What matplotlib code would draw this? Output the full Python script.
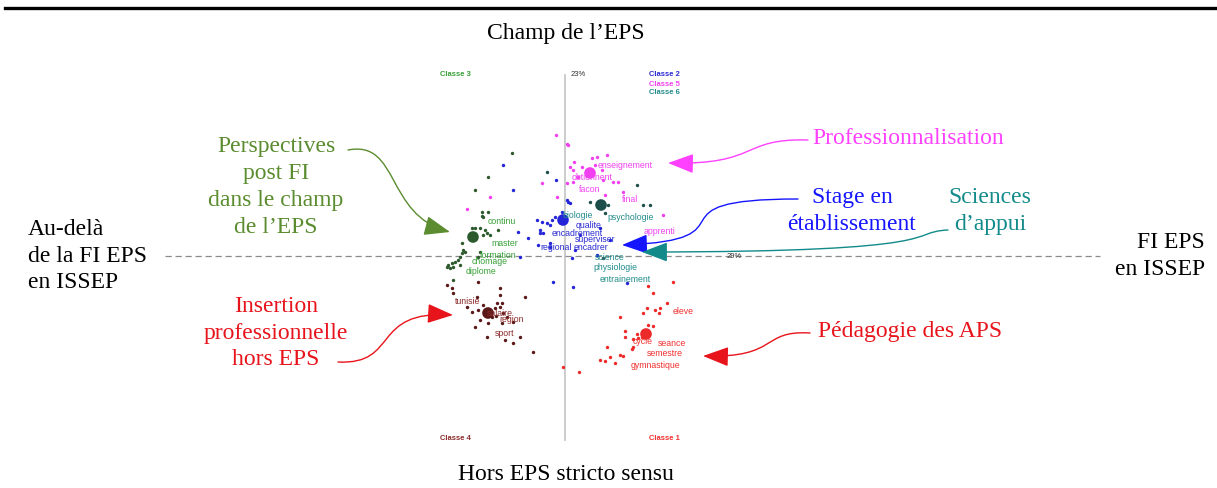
import matplotlib
matplotlib.use("Agg")
import matplotlib.pyplot as plt
from matplotlib.patches import FancyArrowPatch
from matplotlib.path import Path
from matplotlib.transforms import Affine2D
from matplotlib.lines import Line2D

# Factor coordinates (axe 1 = 29%, axe 2 = 23%)
c1_x = [0.83, 1.08, 0.88, 1.02, 0.82, 0.90, 0.95, 0.78, 0.94, 0.55, 0.83, 0.88, 0.60, 0.60, 0.72,
        0.68, 0.73, 0.77, 0.68, 0.67, 0.42, 0.55, 0.58, 0.45, 0.35, 0.40, 0.50, -0.02, 0.14]
c1_y = [-0.30, -0.26, -0.37, -0.47, -0.52, -0.54, -0.52, -0.57, -0.57, -0.61, -0.69, -0.70, -0.75, -0.81, -0.78,
        -0.83, -0.82, -0.81, -0.91, -0.93, -0.91, -0.99, -1.00, -1.01, -1.04, -1.05, -1.07, -1.11, -1.16]
c2_x = [-0.47, -0.37, -0.27, -0.15, -0.15, -0.45, -0.25, -0.22, -0.25, -0.28, -0.23, -0.18, -0.13, -0.15, -0.10,
        -0.12, -0.62, -0.52, -0.09, 0.03, -0.03, 0.02, 0.05, 0.07, 0.32, 0.08, 0.62, 0.15, 0.35, 0.10, 0.45]
c2_y = [0.24, 0.18, 0.11, 0.13, 0.09, -0.01, 0.26, 0.23, 0.23, 0.36, 0.34, 0.33, 0.36, 0.31, 0.39,
        -0.26, 0.91, 0.66, 0.76, 0.54, 0.44, 0.56, 0.53, -0.02, 0.01, -0.31, -0.27, 0.21, 0.28, 0.06, 0.16]
c3_x = [-0.83, -0.77, -0.82, -0.93, -0.90, -0.85, -0.80, -0.78, -0.75, -0.82, -0.67, -1.03, -1.02, -1.00, -1.03,
        -1.05, -1.07, -1.10, -1.13, -1.17, -1.18, -1.12, -1.05, -1.15, -0.85, -0.87, -1.12, -0.53, -0.77, -0.90, -0.83]
c3_y = [0.44, 0.44, 0.39, 0.28, 0.28, 0.28, 0.26, 0.23, 0.21, 0.21, 0.26, 0.13, 0.06, 0.04, 0.03,
        -0.01, -0.04, -0.06, -0.07, -0.09, -0.11, -0.11, -0.09, -0.12, 0.04, -0.01, -0.24, 1.03, 0.79, 0.66, 0.40]
c4_x = [-1.12, -0.88, -0.65, -0.40, -0.98, -0.93, -0.87, -0.82, -0.70, -0.68, -0.63, -0.65, -0.62, -0.58, -0.85,
        -0.77, -0.90, -0.63, -0.52, -0.78, -0.60, -0.52, -0.45, -0.32, -1.18, -1.13, -0.87, -0.65, -0.78, -0.73, -0.69]
c4_y = [-0.37, -0.41, -0.39, -0.41, -0.51, -0.56, -0.54, -0.49, -0.52, -0.47, -0.47, -0.51, -0.57, -0.61, -0.64,
        -0.67, -0.71, -0.67, -0.66, -0.81, -0.84, -0.87, -0.81, -0.96, -0.29, -0.32, -0.26, -0.32, -0.56, -0.61, -0.60]
c5_x = [-0.09, 0.03, -0.23, -0.75, -0.08, 0.02, 0.02, 0.09, 0.05, 0.08, 0.17, 0.27, 0.32, 0.42, 0.30,
        0.37, 0.13, 0.08, 0.48, 0.53, 0.38, 0.40, 0.98, 0.58, -0.98]
c5_y = [1.21, 1.11, 0.73, 0.59, 0.59, 0.73, 1.12, 0.94, 0.89, 0.86, 0.89, 0.98, 0.99, 1.01, 0.91,
        0.86, 0.79, 0.74, 0.74, 0.74, 0.76, 0.61, 0.41, 0.64, 0.47]
c6_x = [0.72, 0.78, 0.85, 0.25, 0.43, -0.18, 0.38, 0.40]
c6_y = [0.71, 0.51, 0.51, 0.54, 0.51, 0.84, -0.02, 0.43]

# class centroids
cent_x = [0.81, -0.02, -0.92, -0.77, 0.25, 0.36]
cent_y = [-0.78, 0.36, 0.19, -0.57, 0.83, 0.51]

# words shown on the plane
w1 = ["eleve", "cycle", "seance", "semestre", "gymnastique"]
w1_x = [1.18, 0.78, 1.07, 1.00, 0.90]
w1_y = [-0.55, -0.85, -0.87, -0.98, -1.10]
w2 = ["qualite", "encadrement", "superviser", "regional", "encadrer"]
w2_x = [0.24, 0.12, 0.30, -0.09, 0.26]
w2_y = [0.31, 0.23, 0.16, 0.09, 0.09]
w3 = ["continu", "master", "formation", "chomage", "diplome"]
w3_x = [-0.63, -0.60, -0.67, -0.75, -0.84]
w3_y = [0.34, 0.12, 0.01, -0.06, -0.16]
w4 = ["tunisie", "salaire", "region", "sport"]
w4_x = [-0.97, -0.65, -0.53, -0.60]
w4_y = [-0.46, -0.57, -0.64, -0.78]
w5 = ["enseignement", "obtiennent", "facon", "final", "apprenti"]
w5_x = [0.60, 0.27, 0.25, 0.65, 0.95]
w5_y = [0.91, 0.79, 0.66, 0.56, 0.24]
w6 = ["biologie", "psychologie", "science", "physiologie", "entrainement"]
w6_x = [0.13, 0.66, 0.45, 0.50, 0.60]
w6_y = [0.40, 0.39, -0.02, -0.12, -0.24]

dot_cols = ["#ec2a2a", "#2424d8", "#2d5a2d", "#5a1818", "#f040f0", "#1c4f4a"]
word_cols = ["#f03030", "#2a2ad0", "#38a038", "#8b2a2a", "#f040f0", "#228c8c"]

W, H = 1217, 488
fig = plt.figure(figsize=(W / 100, H / 100), dpi=100)
ax = fig.add_axes([0, 0, 1, 1])
ax.set_xlim(-5.65, 6.52)
ax.set_ylim(-2.32, 2.56)
ax.axis("off")

# pixel transform for annotations (origin top-left)
pix = Affine2D().scale(1 / W, -1 / H).translate(0, 1) + fig.transFigure

# axes of the factorial plane
ax.plot([0, 0], [1.81, -1.84], color="#c8c8c8", lw=1.3, zorder=1)
ax.plot([-4.0, 5.35], [0, 0], color="#8a8a8a", lw=0.9, ls=(0, (5, 3)), zorder=1)
ax.text(0.06, 1.81, "23%", fontsize=5.5, family="Liberation Sans", color="#333333", va="center")
ax.text(1.62, 0.0, "29%", fontsize=5.5, family="Liberation Sans", color="#333333", va="center")

groups = [(c1_x, c1_y), (c2_x, c2_y), (c3_x, c3_y), (c4_x, c4_y), (c5_x, c5_y), (c6_x, c6_y)]
for (gx, gy), col in zip(groups, dot_cols):
    ax.scatter(gx, gy, s=6, color=col, lw=0, zorder=2)
ax.scatter(cent_x, cent_y, s=70, color=dot_cols, lw=0, zorder=3)

words = [(w1, w1_x, w1_y), (w2, w2_x, w2_y), (w3, w3_x, w3_y),
         (w4, w4_x, w4_y), (w5, w5_x, w5_y), (w6, w6_x, w6_y)]
for (ws, wx, wy), col in zip(words, word_cols):
    for w, x, y in zip(ws, wx, wy):
        ax.text(x, y, w, fontsize=6.3, family="Liberation Sans", color=col,
                ha="center", va="center", zorder=4)

# class names
cls_kw = dict(fontsize=5.5, family="Liberation Sans", fontweight="bold", va="center", ha="left")
ax.text(-1.25, 1.82, "Classe 3", color=word_cols[2], **cls_kw)
ax.text(0.84, 1.82, "Classe 2", color=word_cols[1], **cls_kw)
ax.text(0.84, 1.72, "Classe 5", color=word_cols[4], **cls_kw)
ax.text(0.84, 1.63, "Classe 6", color=word_cols[5], **cls_kw)
ax.text(-1.25, -1.82, "Classe 4", color=word_cols[3], **cls_kw)
ax.text(0.84, -1.82, "Classe 1", color=word_cols[0], **cls_kw)

# top rule
fig.add_artist(Line2D([5, W], [8, 8], color="black", lw=2.4, transform=pix))

serif = "Liberation Serif"
fs = 17


def label(x, y, s, color="black", ha="center"):
    fig.text(x, y, s, transform=pix, fontsize=fs, family=serif, color=color,
             ha=ha, va="center", linespacing=1.36)


label(566, 33, "Champ de l\u2019EPS")
label(566, 475, "Hors EPS stricto sensu")
label(28, 256, "Au-delà\nde la FI EPS\nen ISSEP", ha="left")
label(1205, 256, "FI EPS\nen ISSEP", ha="right")
label(276, 187, "Perspectives\npost FI\ndans le champ\nde l\u2019EPS", color="#5b8c2f")
label(276, 333, "Insertion\nprofessionnelle\nhors EPS", color="#e8141c")
label(908, 138, "Professionnalisation", color="#ff40ff")
label(852, 211, "Stage en\nétablissement", color="#1515ff")
label(990, 211, "Sciences\nd\u2019appui", color="#138a8a")
label(910, 331, "Pédagogie des APS", color="#e8141c")


def curved_arrow(pts, color):
    codes = [Path.MOVETO] + [Path.CURVE4] * (len(pts) - 1)
    arr = FancyArrowPatch(path=Path(pts, codes), transform=pix,
                          arrowstyle="-|>,head_length=1.0,head_width=0.38",
                          mutation_scale=16, color=color, lw=1.0)
    fig.add_artist(arr)


curved_arrow([(348, 150), (400, 140), (385, 215), (450, 232)], "#5b8c2f")
curved_arrow([(338, 362), (400, 365), (370, 310), (453, 315)], "#e8141c")
curved_arrow([(808, 140), (740, 138), (760, 165), (668, 163)], "#ff40ff")
curved_arrow([(798, 199), (640, 199), (760, 240), (622, 245)], "#1515ff")
curved_arrow([(948, 230), (905, 232), (960, 252), (642, 252)], "#138a8a")
curved_arrow([(810, 333), (760, 330), (780, 358), (703, 356)], "#e8141c")

fig.savefig("out.png", dpi=100)
